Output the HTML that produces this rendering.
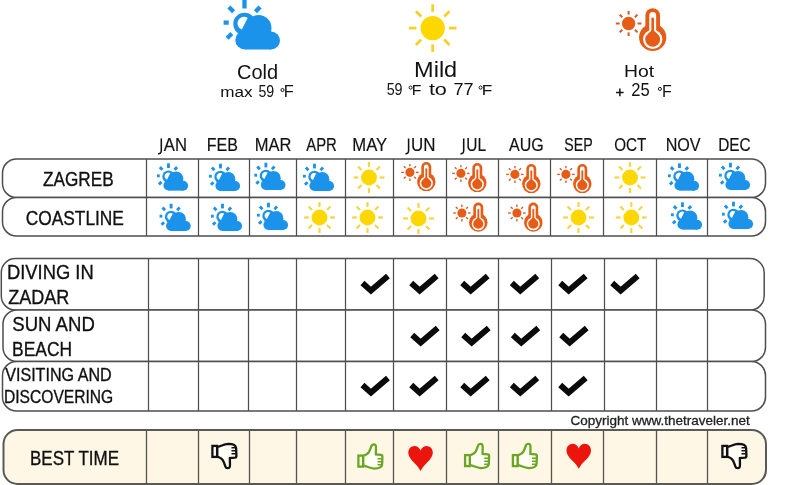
<!DOCTYPE html>
<html><head><meta charset="utf-8"><style>
html,body{margin:0;padding:0;background:#fff;}
body{width:800px;height:485px;overflow:hidden;}
svg{display:block;will-change:transform;font-family:"Liberation Sans",sans-serif;}
</style></head><body>
<svg width="800" height="485" viewBox="0 0 800 485">

<defs>
<symbol id="cloud" viewBox="223 0 58 50" overflow="visible">
  <g stroke="#1b93ea" stroke-width="4.3" stroke-linecap="butt">
    <line x1="244.5" y1="0" x2="244.5" y2="8.5"/>
    <line x1="223.6" y1="22.6" x2="228.7" y2="22.6"/>
    <line x1="228.9" y1="6.9" x2="233.6" y2="11.7"/>
    <line x1="260.1" y1="6.9" x2="255.4" y2="11.7"/>
    <line x1="227.2" y1="38.2" x2="231.8" y2="33.6"/>
  </g>
  <g fill="#1b93ea">
    <circle cx="244.5" cy="24" r="11.2"/>
    <circle cx="258.5" cy="28" r="13"/>
    <circle cx="244.5" cy="40" r="9.2"/>
    <circle cx="271" cy="40.5" r="9"/>
    <rect x="244.5" y="35" width="26.5" height="14.5"/>
  </g>
  <path d="M247.7 17.9 A6.6 6.6 0 1 0 241.8 29.6 Q244.3 24.3 247.7 17.9 Z" fill="#fff"/>
</symbol>
<symbol id="sun" viewBox="-24 -24 48 48" overflow="visible">
  <circle r="12.2" fill="#fdd800"/>
  <g stroke="#f6d02a" stroke-width="2.8">
    <line x1="0" y1="-16.3" x2="0" y2="-23.8"/>
    <line x1="0" y1="16.3" x2="0" y2="23.8"/>
    <line y1="0" x1="-16.3" y2="0" x2="-23.8"/>
    <line y1="0" x1="16.3" y2="0" x2="23.8"/>
    <line x1="11.5" y1="11.5" x2="16.8" y2="16.8"/>
    <line x1="-11.5" y1="11.5" x2="-16.8" y2="16.8"/>
    <line x1="11.5" y1="-11.5" x2="16.8" y2="-16.8"/>
    <line x1="-11.5" y1="-11.5" x2="-16.8" y2="-16.8"/>
  </g>
</symbol>
<symbol id="sunS" viewBox="-24 -24 48 48" overflow="visible">
  <circle r="12.2" fill="#fdd800"/>
  <g stroke="#f6d440" stroke-width="3.3">
    <line x1="0" y1="-16.3" x2="0" y2="-23.8"/>
    <line x1="0" y1="16.3" x2="0" y2="23.8"/>
    <line y1="0" x1="-16.3" y2="0" x2="-23.8"/>
    <line y1="0" x1="16.3" y2="0" x2="23.8"/>
    <line x1="11.5" y1="11.5" x2="16.8" y2="16.8"/>
    <line x1="-11.5" y1="11.5" x2="-16.8" y2="16.8"/>
    <line x1="11.5" y1="-11.5" x2="16.8" y2="-16.8"/>
    <line x1="-11.5" y1="-11.5" x2="-16.8" y2="-16.8"/>
  </g>
</symbol>
<symbol id="cloudS" viewBox="223 0 58 50" overflow="visible">
  <g stroke="#1b93ea" stroke-width="5.2" stroke-linecap="butt">
    <line x1="244.5" y1="0" x2="244.5" y2="8.5"/>
    <line x1="223.6" y1="22.6" x2="228.7" y2="22.6"/>
    <line x1="228.9" y1="6.9" x2="233.6" y2="11.7"/>
    <line x1="260.1" y1="6.9" x2="255.4" y2="11.7"/>
    <line x1="227.2" y1="38.2" x2="231.8" y2="33.6"/>
  </g>
  <g fill="#1b93ea">
    <circle cx="244.5" cy="24" r="11.2"/>
    <circle cx="258.5" cy="28" r="13"/>
    <circle cx="244.5" cy="40" r="9.2"/>
    <circle cx="271" cy="40.5" r="9"/>
    <rect x="244.5" y="35" width="26.5" height="14.5"/>
  </g>
  <path d="M247.7 17.9 A6.6 6.6 0 1 0 241.8 29.6 Q244.3 24.3 247.7 17.9 Z" fill="#fff"/>
</symbol>
<symbol id="hot" viewBox="615 7 52 44" overflow="visible">
  <circle cx="628.6" cy="23.5" r="6.7" fill="#e65c16"/>
  <g stroke="#d05a28" stroke-width="2">
    <line x1="628.6" y1="14.6" x2="628.6" y2="11"/>
    <line x1="628.6" y1="32.4" x2="628.6" y2="36"/>
    <line x1="619.7" y1="23.5" x2="615.8" y2="23.5"/>
    <line x1="637.5" y1="23.5" x2="641.4" y2="23.5"/>
    <line x1="622.3" y1="17.2" x2="619.7" y2="14.6"/>
    <line x1="634.9" y1="17.2" x2="637.5" y2="14.6"/>
    <line x1="622.3" y1="29.8" x2="619.7" y2="32.4"/>
    <line x1="634.9" y1="29.8" x2="637.5" y2="32.4"/>
  </g>
  <g fill="#e65c16">
    <rect x="645.4" y="8.2" width="14.6" height="30" rx="7.3"/>
    <circle cx="652.7" cy="37.4" r="13.6"/>
  </g>
  <g fill="#fff">
    <rect x="649.25" y="12" width="6.9" height="26" rx="3.45"/>
    <circle cx="652.7" cy="39.4" r="9.6"/>
  </g>
  <g fill="#e65c16">
    <rect x="651.35" y="17.4" width="2.7" height="20" rx="1.35"/>
    <path d="M652.7 29 C654.2 32 660.2 34.6 660.2 39.2 A7.5 7.5 0 0 1 645.2 39.2 C645.2 34.6 651.2 32 652.7 29 Z"/>
  </g>
</symbol>
<symbol id="check" viewBox="0 0 30 20" overflow="visible">
  <path d="M2.7 9 L11.2 16.6 L28.2 2.1" fill="none" stroke="#0a0a0a" stroke-width="5.9" stroke-linecap="butt" stroke-linejoin="miter" stroke-miterlimit="10"/>
</symbol>
<symbol id="thumb" viewBox="0 0 27 26" overflow="visible">
  <path d="M6.6 13 C9.5 12 11.5 11 12.5 9 C13.8 6.5 14.5 4 15 2.8 C15.5 1 18.8 0.6 19.3 2.8 C19.8 5 19.2 8.5 19.4 11.4 L24.5 11.9 C25.8 12.1 26 12.8 25.9 14 L25.6 21.5 C25.4 24 22 25.6 17.8 25.6 C13 25.4 9.5 22.8 6.6 22.6 Z" fill="#fffdf4"/>
  <rect x="1.9" y="12.6" width="4.7" height="11" fill="#fffdf4"/>
  <path d="M21 15.7 H25.2 M21 18.7 H25.2 M21 21.7 H25" fill="none" stroke-width="1.5"/>
</symbol>
<symbol id="heart" viewBox="0 0 24.5 25" overflow="visible">
  <path d="M12.25 4.6 C11 1.5 8.8 0 6.3 0 C2.8 0 0 2.8 0 6.6 C0 11 3.5 14.5 7 18 C9 20 11 22.5 12.25 25 C13.5 22.5 15.5 20 17.5 18 C21 14.5 24.5 11 24.5 6.6 C24.5 2.8 21.7 0 18.2 0 C15.7 0 13.5 1.5 12.25 4.6 Z" fill="#eb150e"/>
</symbol>
</defs>

<use href="#cloud" x="223" y="0" width="58" height="50"/>
<use href="#sun" x="408.7" y="4.1" width="48" height="48"/>
<use href="#hot" x="615" y="7" width="52" height="44"/>
<text transform="translate(237.00,78.60) scale(0.9552,1)" font-size="20.97" fill="#111" stroke="#111" stroke-width="0.000">Cold</text>
<text transform="translate(220.34,97.00) scale(1.2046,1)" font-size="14.22" fill="#111" stroke="#111" stroke-width="0.000">max</text>
<text transform="translate(258.43,97.00) scale(0.8580,1)" font-size="16.49" fill="#111" stroke="#111" stroke-width="0.000">59</text>
<circle cx="282.5" cy="90" r="1.55" fill="none" stroke="#111" stroke-width="1.0"/>
<text transform="translate(283.65,97.00) scale(1.0256,1)" font-size="16.00" fill="#111" stroke="#111" stroke-width="0.000">F</text>
<text transform="translate(414.06,76.70) scale(1.0864,1)" font-size="21.66" fill="#111" stroke="#111" stroke-width="0.000">Mild</text>
<text transform="translate(386.63,95.10) scale(0.9177,1)" font-size="15.63" fill="#111" stroke="#111" stroke-width="0.000">59</text>
<circle cx="410.6" cy="87.6" r="1.55" fill="none" stroke="#111" stroke-width="1.0"/>
<text transform="translate(411.80,95.10) scale(1.0244,1)" font-size="15.42" fill="#111" stroke="#111" stroke-width="0.000">F</text>
<text transform="translate(428.88,95.10) scale(1.3664,1)" font-size="15.81" fill="#111" stroke="#111" stroke-width="0.000">to</text>
<text transform="translate(453.45,95.10) scale(1.1394,1)" font-size="15.85" fill="#111" stroke="#111" stroke-width="0.000">77</text>
<circle cx="480.6" cy="87.6" r="1.55" fill="none" stroke="#111" stroke-width="1.0"/>
<text transform="translate(481.68,95.10) scale(1.1176,1)" font-size="15.42" fill="#111" stroke="#111" stroke-width="0.000">F</text>
<text transform="translate(624.00,76.50) scale(1.1589,1)" font-size="16.73" fill="#111" stroke="#111" stroke-width="0.000">Hot</text>
<path d="M616.1 92.4 H623.6 M619.85 88.5 V96.3" stroke="#111" stroke-width="1.5" fill="none"/>
<text transform="translate(631.37,96.30) scale(0.9320,1)" font-size="17.78" fill="#111" stroke="#111" stroke-width="0.000">25</text>
<circle cx="659.9" cy="88.9" r="1.55" fill="none" stroke="#111" stroke-width="1.0"/>
<text transform="translate(661.88,96.70) scale(0.9244,1)" font-size="17.31" fill="#111" stroke="#111" stroke-width="0.000">F</text>
<path d="M161.3 138.6 V150.6 Q161.3 153.9 158.10000000000002 153.7" fill="none" stroke="#111" stroke-width="1.55"/>
<text transform="translate(163.76,150.50) scale(0.9571,1)" font-size="17.45" fill="#111" stroke="#111" stroke-width="0.157">AN</text>
<text transform="translate(206.68,150.50) scale(0.9179,1)" font-size="17.45" fill="#111" stroke="#111" stroke-width="0.163">FEB</text>
<text transform="translate(254.64,150.50) scale(0.9473,1)" font-size="17.45" fill="#111" stroke="#111" stroke-width="0.158">MAR</text>
<text transform="translate(306.26,150.50) scale(0.8533,1)" font-size="17.45" fill="#111" stroke="#111" stroke-width="0.176">APR</text>
<text transform="translate(352.37,150.50) scale(0.9556,1)" font-size="17.45" fill="#111" stroke="#111" stroke-width="0.157">MAY</text>
<path d="M408.6 138.6 V150.6 Q408.6 153.9 405.40000000000003 153.7" fill="none" stroke="#111" stroke-width="1.55"/>
<text transform="translate(411.09,150.50) scale(0.9720,1)" font-size="17.45" fill="#111" stroke="#111" stroke-width="0.154">UN</text>
<path d="M463.7 138.6 V150.6 Q463.7 153.9 460.5 153.7" fill="none" stroke="#111" stroke-width="1.55"/>
<text transform="translate(466.30,150.50) scale(0.8882,1)" font-size="17.45" fill="#111" stroke="#111" stroke-width="0.169">UL</text>
<text transform="translate(508.96,150.50) scale(0.9183,1)" font-size="17.45" fill="#111" stroke="#111" stroke-width="0.163">AUG</text>
<text transform="translate(564.36,150.50) scale(0.8120,1)" font-size="17.45" fill="#111" stroke="#111" stroke-width="0.185">SEP</text>
<text transform="translate(614.28,150.50) scale(0.8706,1)" font-size="17.45" fill="#111" stroke="#111" stroke-width="0.172">OCT</text>
<text transform="translate(665.67,150.50) scale(0.9255,1)" font-size="17.45" fill="#111" stroke="#111" stroke-width="0.162">NOV</text>
<text transform="translate(718.13,150.50) scale(0.8810,1)" font-size="17.45" fill="#111" stroke="#111" stroke-width="0.170">DEC</text>
<rect x="2.5" y="159" width="763.0" height="38.5" rx="14" ry="14" fill="#fff" stroke="#4e4e4e" stroke-width="1.5"/>
<rect x="2.5" y="197.5" width="763.0" height="38.5" rx="14" ry="14" fill="#fff" stroke="#4e4e4e" stroke-width="1.5"/>
<line x1="146.5" y1="159" x2="146.5" y2="236" stroke="#4e4e4e" stroke-width="1.25"/>
<line x1="198.5" y1="159" x2="198.5" y2="236" stroke="#4e4e4e" stroke-width="1.25"/>
<line x1="249.5" y1="159" x2="249.5" y2="236" stroke="#4e4e4e" stroke-width="1.25"/>
<line x1="296.5" y1="159" x2="296.5" y2="236" stroke="#4e4e4e" stroke-width="1.25"/>
<line x1="345.5" y1="159" x2="345.5" y2="236" stroke="#4e4e4e" stroke-width="1.25"/>
<line x1="393.5" y1="159" x2="393.5" y2="236" stroke="#4e4e4e" stroke-width="1.25"/>
<line x1="446.5" y1="159" x2="446.5" y2="236" stroke="#4e4e4e" stroke-width="1.25"/>
<line x1="498.5" y1="159" x2="498.5" y2="236" stroke="#4e4e4e" stroke-width="1.25"/>
<line x1="550.5" y1="159" x2="550.5" y2="236" stroke="#4e4e4e" stroke-width="1.25"/>
<line x1="603.5" y1="159" x2="603.5" y2="236" stroke="#4e4e4e" stroke-width="1.25"/>
<line x1="656.5" y1="159" x2="656.5" y2="236" stroke="#4e4e4e" stroke-width="1.25"/>
<line x1="707.5" y1="159" x2="707.5" y2="236" stroke="#4e4e4e" stroke-width="1.25"/>
<text transform="translate(43.04,185.70) scale(0.8737,1)" font-size="19.64" fill="#111" stroke="#111" stroke-width="0.343">ZAGREB</text>
<text transform="translate(25.63,224.70) scale(0.8842,1)" font-size="19.64" fill="#111" stroke="#111" stroke-width="0.339">COASTLINE</text>
<use href="#cloudS" x="156.61" y="163.32" width="32.02" height="27.60"/>
<use href="#cloudS" x="208.61" y="163.72" width="32.02" height="27.60"/>
<use href="#cloudS" x="254.01" y="162.72" width="32.02" height="27.60"/>
<use href="#cloudS" x="302.61" y="163.72" width="32.02" height="27.60"/>
<use href="#sunS" x="353.40" y="161.90" width="31.20" height="31.20"/>
<use href="#hot" x="400.66" y="161.18" width="35.36" height="29.92"/>
<use href="#hot" x="451.66" y="162.18" width="35.36" height="29.92"/>
<use href="#hot" x="505.66" y="163.18" width="35.36" height="29.92"/>
<use href="#hot" x="556.66" y="163.18" width="35.36" height="29.92"/>
<use href="#sunS" x="614.40" y="161.90" width="31.20" height="31.20"/>
<use href="#cloudS" x="667.61" y="163.32" width="32.02" height="27.60"/>
<use href="#cloudS" x="718.61" y="162.72" width="32.02" height="27.60"/>
<use href="#cloudS" x="159.21" y="203.72" width="32.02" height="27.60"/>
<use href="#cloudS" x="210.61" y="203.72" width="32.02" height="27.60"/>
<use href="#cloudS" x="256.61" y="202.72" width="32.02" height="27.60"/>
<use href="#sunS" x="303.90" y="201.90" width="31.20" height="31.20"/>
<use href="#sunS" x="351.90" y="201.90" width="31.20" height="31.20"/>
<use href="#sunS" x="402.90" y="202.90" width="31.20" height="31.20"/>
<use href="#hot" x="452.66" y="201.78" width="35.36" height="29.92"/>
<use href="#hot" x="507.66" y="201.78" width="35.36" height="29.92"/>
<use href="#sunS" x="562.90" y="201.90" width="31.20" height="31.20"/>
<use href="#sunS" x="615.70" y="201.90" width="31.20" height="31.20"/>
<use href="#cloudS" x="670.61" y="202.32" width="32.02" height="27.60"/>
<use href="#cloudS" x="721.61" y="201.72" width="32.02" height="27.60"/>
<rect x="1.3" y="258.6" width="762.9000000000001" height="51.39999999999998" rx="14" ry="14" fill="#fff" stroke="#4e4e4e" stroke-width="1.5"/>
<rect x="3" y="310" width="762.5" height="51.5" rx="14" ry="14" fill="#fff" stroke="#4e4e4e" stroke-width="1.5"/>
<rect x="2.5" y="361.5" width="763.0" height="49.5" rx="14" ry="14" fill="#fff" stroke="#4e4e4e" stroke-width="1.5"/>
<line x1="148.5" y1="258.6" x2="148.5" y2="411" stroke="#4e4e4e" stroke-width="1.25"/>
<line x1="198.5" y1="258.6" x2="198.5" y2="411" stroke="#4e4e4e" stroke-width="1.25"/>
<line x1="248.5" y1="258.6" x2="248.5" y2="411" stroke="#4e4e4e" stroke-width="1.25"/>
<line x1="296.5" y1="258.6" x2="296.5" y2="411" stroke="#4e4e4e" stroke-width="1.25"/>
<line x1="345.5" y1="258.6" x2="345.5" y2="411" stroke="#4e4e4e" stroke-width="1.25"/>
<line x1="393.5" y1="258.6" x2="393.5" y2="411" stroke="#4e4e4e" stroke-width="1.25"/>
<line x1="446.5" y1="258.6" x2="446.5" y2="411" stroke="#4e4e4e" stroke-width="1.25"/>
<line x1="498.5" y1="258.6" x2="498.5" y2="411" stroke="#4e4e4e" stroke-width="1.25"/>
<line x1="551.5" y1="258.6" x2="551.5" y2="411" stroke="#4e4e4e" stroke-width="1.25"/>
<line x1="604.5" y1="258.6" x2="604.5" y2="411" stroke="#4e4e4e" stroke-width="1.25"/>
<line x1="656.5" y1="258.6" x2="656.5" y2="411" stroke="#4e4e4e" stroke-width="1.25"/>
<line x1="707.5" y1="258.6" x2="707.5" y2="411" stroke="#4e4e4e" stroke-width="1.25"/>
<text transform="translate(6.98,278.75) scale(0.9188,1)" font-size="20.00" fill="#111" stroke="#111" stroke-width="0.327">DIVING IN</text>
<text transform="translate(8.16,303.75) scale(0.9026,1)" font-size="20.00" fill="#111" stroke="#111" stroke-width="0.332">ZADAR</text>
<text transform="translate(12.26,331.00) scale(0.9294,1)" font-size="20.00" fill="#111" stroke="#111" stroke-width="0.323">SUN AND</text>
<text transform="translate(12.06,356.00) scale(0.8865,1)" font-size="19.64" fill="#111" stroke="#111" stroke-width="0.338">BEACH</text>
<text transform="translate(5.17,380.75) scale(0.8692,1)" font-size="18.55" fill="#111" stroke="#111" stroke-width="0.345">VISITING AND</text>
<text transform="translate(3.96,403.20) scale(0.8453,1)" font-size="18.47" fill="#111" stroke="#111" stroke-width="0.355">DISCOVERING</text>
<use href="#check" x="359.75" y="274.00" width="30" height="20"/>
<use href="#check" x="408.50" y="274.00" width="30" height="20"/>
<use href="#check" x="459.50" y="274.00" width="30" height="20"/>
<use href="#check" x="509.10" y="274.00" width="30" height="20"/>
<use href="#check" x="557.50" y="274.00" width="30" height="20"/>
<use href="#check" x="609.50" y="274.00" width="30" height="20"/>
<use href="#check" x="409.50" y="326.00" width="30" height="20"/>
<use href="#check" x="460.50" y="326.00" width="30" height="20"/>
<use href="#check" x="510.10" y="326.00" width="30" height="20"/>
<use href="#check" x="558.50" y="326.00" width="30" height="20"/>
<use href="#check" x="359.75" y="376.00" width="30" height="20"/>
<use href="#check" x="408.50" y="376.00" width="30" height="20"/>
<use href="#check" x="459.50" y="376.00" width="30" height="20"/>
<use href="#check" x="509.10" y="376.00" width="30" height="20"/>
<use href="#check" x="557.50" y="376.00" width="30" height="20"/>
<text transform="translate(570.57,424.50) scale(0.9922,1)" font-size="13.62" fill="#222" stroke="#222" stroke-width="0.302">Copyright www.thetraveler.net</text>
<rect x="3.5" y="430" width="762.5" height="54" rx="14" ry="14" fill="#fef7e5" stroke="#5a5a55" stroke-width="2"/>
<line x1="146.5" y1="430" x2="146.5" y2="484" stroke="#55554f" stroke-width="1.3"/>
<line x1="198.5" y1="430" x2="198.5" y2="484" stroke="#55554f" stroke-width="1.3"/>
<line x1="249.5" y1="430" x2="249.5" y2="484" stroke="#55554f" stroke-width="1.3"/>
<line x1="296.5" y1="430" x2="296.5" y2="484" stroke="#55554f" stroke-width="1.3"/>
<line x1="345.5" y1="430" x2="345.5" y2="484" stroke="#55554f" stroke-width="1.3"/>
<line x1="393.5" y1="430" x2="393.5" y2="484" stroke="#55554f" stroke-width="1.3"/>
<line x1="446.5" y1="430" x2="446.5" y2="484" stroke="#55554f" stroke-width="1.3"/>
<line x1="498.5" y1="430" x2="498.5" y2="484" stroke="#55554f" stroke-width="1.3"/>
<line x1="551.5" y1="430" x2="551.5" y2="484" stroke="#55554f" stroke-width="1.3"/>
<line x1="603.5" y1="430" x2="603.5" y2="484" stroke="#55554f" stroke-width="1.3"/>
<line x1="656.5" y1="430" x2="656.5" y2="484" stroke="#55554f" stroke-width="1.3"/>
<line x1="707.5" y1="430" x2="707.5" y2="484" stroke="#55554f" stroke-width="1.3"/>
<text transform="translate(30.00,465.10) scale(0.8469,1)" font-size="20.07" fill="#111" stroke="#111" stroke-width="0.354">BEST TIME</text>
<g transform="translate(210.50,469.50) scale(1,-1)"><use href="#thumb" width="27" height="26" stroke="#111" stroke-width="2.3"/></g>
<use href="#thumb" x="356.50" y="443.00" width="27" height="26" stroke="#6aa621" stroke-width="2.3"/>
<use href="#heart" x="408.30" y="446.00" width="24.5" height="25"/>
<use href="#thumb" x="463.20" y="442.50" width="27" height="26" stroke="#6aa621" stroke-width="2.3"/>
<use href="#thumb" x="511.00" y="442.50" width="27" height="26" stroke="#6aa621" stroke-width="2.3"/>
<use href="#heart" x="566.50" y="443.80" width="24.5" height="25"/>
<g transform="translate(720.50,469.50) scale(1,-1)"><use href="#thumb" width="27" height="26" stroke="#111" stroke-width="2.3"/></g>
</svg>
</body></html>
